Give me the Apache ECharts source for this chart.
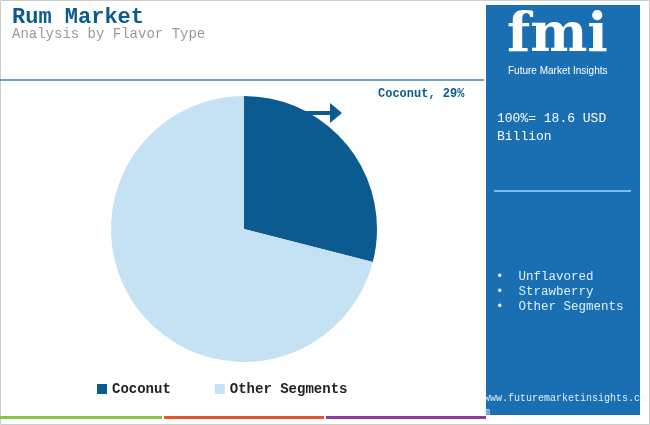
<!DOCTYPE html><html><head><meta charset="utf-8">
<script src="https://cdn.jsdelivr.net/npm/echarts@6/dist/echarts.min.js"></script>
<style>html,body{margin:0;padding:0;background:#fff}#c{width:650px;height:425px}</style></head>
<body><div id="c"></div><script>
const categories=['Coconut','Other Segments'];
const values=[29,71];
const colors=['#0b5b91','#c4e2f3'];
const panelItems=['Unflavored','Strawberry','Other Segments'];
const mono='"Liberation Mono", "DejaVu Sans Mono", monospace';
const chart=echarts.init(document.getElementById('c'));
chart.setOption({
  animation:false,
  graphic:[
    {type:'rect',shape:{x:0.5,y:0.5,width:649,height:424},style:{fill:'none',stroke:'#cccccc',lineWidth:1}},
    {type:'text',left:12,top:6,style:{text:'Rum Market',font:'bold 22px '+mono,fill:'#0b5b91'}},
    {type:'text',left:12,top:27,style:{text:'Analysis by Flavor Type',font:'14px '+mono,fill:'#999999'}},
    {type:'line',shape:{x1:0,y1:80,x2:484,y2:80},style:{stroke:'#3d7fb0',lineWidth:1.5}},
    {type:'rect',shape:{x:486,y:5,width:154,height:410},style:{fill:'#1a6fb3'}},
    {type:'text',left:507,top:10,style:{text:'fmi',font:'bold 54px "DejaVu Serif", serif',fill:'#ffffff'}},
    {type:'text',left:508,top:66,style:{text:'Future Market Insights',font:'10px "Liberation Sans Narrow", "Liberation Sans", sans-serif',fill:'#ffffff'}},
    {type:'text',left:497,top:110,style:{text:'100%= 18.6 USD\nBillion',font:'13px '+mono,fill:'#ffffff',lineHeight:18}},
    {type:'line',shape:{x1:494,y1:191,x2:631,y2:191},style:{stroke:'#7fbde8',lineWidth:2}},
    {type:'text',left:496,top:269,style:{text:panelItems.map(s=>'•  '+s).join('\n'),font:'12.5px '+mono,fill:'#dfefff',lineHeight:15}},
    {type:'text',left:484,top:391,style:{text:'www.futuremarketinsights.co\nm',font:'10px '+mono,fill:'#dfefff',lineHeight:14,align:'left'}},
    {type:'text',left:378,top:88,style:{text:categories[0]+', '+values[0]+'%',font:'bold 12px '+mono,fill:'#0b5b91'}},
    {type:'line',shape:{x1:305,y1:113,x2:332,y2:113},style:{stroke:'#0b5b91',lineWidth:4}},
    {type:'polygon',shape:{points:[[330,103],[342,113],[330,123]]},style:{fill:'#0b5b91'}},
    {type:'rect',shape:{x:0,y:416,width:162,height:3},style:{fill:'#8bc34a'}},
    {type:'rect',shape:{x:164,y:416,width:160,height:3},style:{fill:'#e0582a'}},
    {type:'rect',shape:{x:326,y:416,width:160,height:3},style:{fill:'#8e3c98'}}
  ],
  legend:{bottom:24,left:92,itemWidth:10,itemHeight:10,itemGap:44,icon:'rect',
    textStyle:{fontFamily:mono,fontSize:14,fontWeight:'bold',color:'#222'},data:categories},
  series:[{type:'pie',center:[244,229],radius:[0,133],startAngle:90,clockwise:true,
    label:{show:false},labelLine:{show:false},
    data:categories.map((n,i)=>({name:n,value:values[i],itemStyle:{color:colors[i]}}))}]
});
</script></body></html>
